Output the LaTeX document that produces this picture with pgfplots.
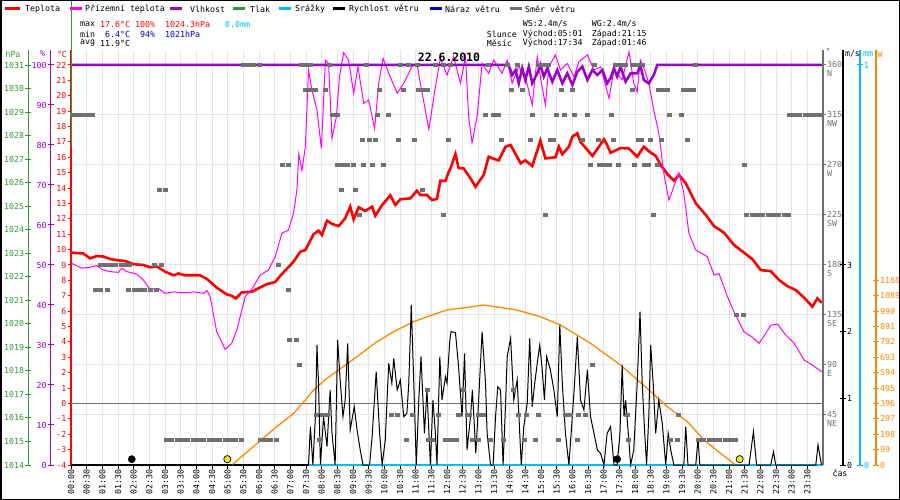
\documentclass[border=0pt]{standalone}
\usepackage{pgfplots}
\pgfplotsset{compat=1.18}
\usepackage{fontspec}
\setmainfont{DejaVu Sans Mono}
\newfontfamily\mono{DejaVu Sans Mono}
\newcommand\tfnt{\mono\fontsize{8.3}{9.5}\selectfont}
\definecolor{cT}{RGB}{255,0,0}
\definecolor{cG}{RGB}{255,0,255}
\definecolor{cH}{RGB}{153,0,204}
\definecolor{cP}{RGB}{51,153,51}
\definecolor{cR}{RGB}{0,187,255}
\definecolor{cN}{RGB}{0,0,204}
\definecolor{cD}{RGB}{112,112,112}
\definecolor{cS}{RGB}{255,136,0}
\definecolor{cGrid}{RGB}{228,228,228}
\definecolor{cMin}{RGB}{0,0,204}
\definecolor{cSun}{RGB}{255,240,0}
\pgfplotsset{
  geom/.style={at={(71bp,35bp)}, anchor=south west, scale only axis,
     width=752bp, height=415.4bp, xmin=0, xmax=24, clip=false},
  side/.style={at={(#1,35bp)}, anchor=south west, scale only axis,
     width=1bp, height=415.4bp, xmin=0, xmax=1, hide x axis, clip=false,
     axis line style={-}, tick label style={font=\tfnt, inner sep=1bp},
     tick align=center, major tick length=6bp},
}
\begin{document}
\begin{tikzpicture}
\useasboundingbox (0,0) rectangle (900bp,500bp);
% ---------- grid (wind-direction scale) ----------
\begin{axis}[geom, ymin=0, ymax=373.86,
  xtick={0,0.5,...,24}, ytick={45,90,135,180,225,270,315,360},
  xmajorgrids, ymajorgrids, grid style={cGrid, line width=1bp},
  major tick length=0pt, xticklabels={}, yticklabels={},
  axis line style={draw=none}]
\addplot[draw=none] coordinates {(0,0)};
\end{axis}
% ---------- main temperature axis ----------
\begin{axis}[geom, ymin=-4, ymax=23,
  axis x line*=bottom, axis y line*=left, axis line style={-},
  x axis line style={black, line width=2.5bp},
  y axis line style={cT, line width=1.2bp},
  ytick={-4,-3,-2,-1,0,1,2,3,4,5,6,7,8,9,10,11,12,13,14,15,16,17,18,19,20,21,22},
  yticklabels={-4,-3,-2,-1,0,1,2,3,4,5,6,7,8,9,10,11,12,13,14,15,16,17,18,19,20,21,22},
  ytick style={cT, line width=1bp},
  yticklabel style={text=cT, font=\tfnt, inner sep=1bp},
  xtick={0,0.5,...,23.5},
  xticklabels={00:00,00:30,01:00,01:30,02:00,02:30,03:00,03:30,04:00,04:30,05:00,05:30,06:00,06:30,07:00,07:30,08:00,08:30,09:00,09:30,10:00,10:30,11:00,11:30,12:00,12:30,13:00,13:30,14:00,14:30,15:00,15:30,16:00,16:30,17:00,17:30,18:00,18:30,19:00,19:30,20:00,20:30,21:00,21:30,22:00,22:30,23:00,23:30},
  xticklabel style={rotate=90, anchor=east, font=\tfnt, inner sep=1bp},
  xtick style={black, line width=0.8bp},
  tick align=outside, major tick length=3.5bp]
\addplot[cD, line width=1bp] coordinates {(0,0) (24,0)};
\end{axis}
% ---------- precipitation (mm) ----------
\begin{axis}[geom, hide axis, ymin=0, ymax=1.0385]
\addplot[cR, line width=2.2bp] coordinates {(7.55,0) (24,0)};
\end{axis}
% ---------- solar radiation (W) ----------
\begin{axis}[geom, hide axis, ymin=0, ymax=2673.1]
\addplot[cS, line width=1.3bp] coordinates {
(5.13,0)(6.04,156)(6.57,247)(7.10,332)(7.48,418)(7.74,483)(8.17,558)(8.91,665)(9.77,794)(10.30,858)(10.94,923)(11.79,984)(12.05,1000)(12.43,1008)(13.17,1030)(14.24,997)(14.98,954)(15.62,901)(16.58,783)(17.54,643)(18.39,493)(19.03,375)(19.67,279)(20.20,161)(20.73,75)(21.21,0)};
\end{axis}
% ---------- temperatures ----------
\begin{axis}[geom, hide axis, ymin=-4, ymax=23]
\addplot[cT, line width=2.6bp] coordinates {
(0.02,9.80)(0.39,9.75)(0.61,9.43)(0.82,9.58)(1.03,9.55)(1.25,9.39)(1.51,9.30)(1.73,9.26)(1.99,9.05)(2.31,9.00)(2.52,8.85)(2.74,8.90)(3.00,8.57)(3.27,8.33)(3.43,8.45)(3.64,8.33)(4.12,8.33)(4.34,8.09)(4.65,7.53)(4.97,7.09)(5.13,7.00)(5.26,6.83)(5.45,7.22)(5.77,7.26)(6.04,7.55)(6.25,7.75)(6.52,7.90)(6.68,8.30)(7.10,9.21)(7.32,9.87)(7.48,9.97)(7.74,11.00)(7.90,11.23)(8.01,10.95)(8.17,11.88)(8.33,11.67)(8.54,11.53)(8.75,12.03)(8.91,12.79)(9.02,11.97)(9.18,12.75)(9.39,12.51)(9.61,12.79)(9.71,12.20)(9.93,12.90)(10.19,13.53)(10.35,12.90)(10.51,13.27)(10.83,13.33)(11.04,13.83)(11.15,13.55)(11.36,13.55)(11.52,13.22)(11.68,13.30)(11.79,14.48)(11.95,14.46)(12.05,15.02)(12.11,15.28)(12.27,16.21)(12.37,15.30)(12.53,15.28)(12.75,14.63)(12.91,14.09)(13.17,14.85)(13.33,16.04)(13.49,15.90)(13.65,15.80)(13.87,16.69)(14.03,16.80)(14.19,16.20)(14.35,15.61)(14.50,15.80)(14.72,15.43)(14.98,17.08)(15.14,15.93)(15.46,16.00)(15.57,16.69)(15.68,16.20)(15.89,16.69)(16.00,17.34)(16.16,17.56)(16.26,17.00)(16.48,16.48)(16.64,16.09)(16.85,16.69)(17.01,17.17)(17.11,16.80)(17.22,16.30)(17.54,16.60)(17.80,16.58)(18.07,16.04)(18.28,16.69)(18.44,16.40)(18.66,16.09)(18.82,15.50)(19.03,14.91)(19.24,14.48)(19.40,14.85)(19.62,14.31)(19.94,13.01)(20.26,12.25)(20.52,11.53)(20.84,11.10)(21.16,10.30)(21.48,9.80)(21.75,9.37)(22.01,8.67)(22.33,8.60)(22.60,8.02)(22.86,7.63)(23.13,7.37)(23.40,6.87)(23.66,6.29)(23.82,6.83)(23.96,6.55)};
\addplot[cG, line width=1bp] coordinates {
(0.02,9.11)(0.34,8.79)(0.61,8.85)(0.82,8.96)(1.03,8.67)(1.25,8.57)(1.51,8.52)(1.62,8.79)(1.78,8.57)(2.10,8.41)(2.31,8.02)(2.52,7.42)(2.79,7.48)(3.00,7.16)(3.27,7.25)(3.59,7.20)(3.91,7.25)(4.23,7.16)(4.34,7.33)(4.44,6.94)(4.65,4.66)(4.92,3.52)(5.13,3.91)(5.29,4.77)(5.56,6.94)(5.77,7.42)(6.04,8.35)(6.30,8.67)(6.52,9.54)(6.73,11.06)(6.94,11.27)(7.10,12.36)(7.21,13.87)(7.27,16.21)(7.37,15.13)(7.48,16.69)(7.58,21.67)(7.69,20.37)(7.85,19.07)(7.99,16.58)(8.12,22.32)(8.22,22.10)(8.33,17.24)(8.47,18.64)(8.57,21.24)(8.70,22.80)(8.86,22.32)(9.02,20.16)(9.16,21.89)(9.34,19.51)(9.50,19.72)(9.69,17.88)(9.82,20.81)(9.96,22.43)(10.14,21.46)(10.41,20.16)(10.62,20.81)(10.88,21.89)(11.04,22.10)(11.15,20.81)(11.42,17.82)(11.63,20.59)(11.79,22.43)(12.00,21.35)(12.21,22.54)(12.43,20.81)(12.59,22.54)(12.69,18.64)(12.80,16.95)(12.96,18.64)(13.12,22.10)(13.33,21.46)(13.49,22.32)(13.76,21.46)(13.92,22.32)(14.08,20.81)(14.29,21.89)(14.50,21.24)(14.72,19.40)(14.88,22.54)(14.98,21.24)(15.14,19.40)(15.25,21.89)(15.46,22.65)(15.62,21.67)(15.84,22.10)(16.05,21.24)(16.21,22.21)(16.48,22.65)(16.69,21.67)(16.90,21.89)(17.17,19.84)(17.33,21.67)(17.59,21.03)(17.81,22.86)(17.96,20.80)(18.07,20.26)(18.17,22.32)(18.31,21.67)(18.44,20.81)(18.60,19.07)(18.76,17.56)(18.92,14.96)(19.08,13.22)(19.24,14.09)(19.40,15.00)(19.56,13.66)(19.72,11.06)(19.94,9.97)(20.31,9.54)(20.52,8.35)(20.68,8.45)(20.95,6.94)(21.16,5.96)(21.48,4.66)(21.75,4.30)(21.96,3.91)(22.12,4.40)(22.33,5.08)(22.55,5.16)(22.81,4.45)(23.08,3.91)(23.40,2.82)(23.66,2.50)(23.96,2.06)};
\end{axis}
% ---------- humidity ----------
\begin{axis}[geom, hide axis, ymin=0, ymax=103.85]
\addplot[cH, line width=2.5bp] coordinates {
(0,100)(13.97,100)(14.08,97.5)(14.19,98.75)(14.29,95.4)(14.40,99.2)(14.50,96.25)(14.61,99.6)(14.72,95.4)(14.88,97.9)(14.98,100)(15.09,97.1)(15.20,99.2)(15.36,95.8)(15.52,98.75)(15.68,95.4)(15.84,97.9)(16.00,95.0)(16.16,98.3)(16.32,99.6)(16.48,96.25)(16.64,98.75)(16.80,97.5)(16.96,98.75)(17.11,95.4)(17.22,96.7)(17.33,99.2)(17.43,97.1)(17.54,99.6)(17.70,95.8)(17.86,97.9)(18.07,97.9)(18.17,100)(18.28,96.25)(18.44,95.4)(18.60,97.5)(18.71,100)(24,100)};
\end{axis}
% ---------- wind speed ----------
\begin{axis}[geom, hide axis, ymin=0, ymax=6.231]
\addplot[black, line width=1bp] coordinates {
(0,0)(7.58,0)(7.64,0.575)(7.72,0)(7.80,0.725)(7.85,1.8)(7.90,1.225)(7.96,0)(8.06,0.725)(8.17,0.275)(8.27,1.125)(8.33,0.475)(8.43,0)(8.51,1.875)(8.59,1.275)(8.68,0.725)(8.75,0.975)(8.83,1.825)(8.91,0.525)(9.04,0.875)(9.13,0.525)(9.23,0.225)(9.32,0)(9.53,0)(9.61,0.425)(9.74,1.4)(9.85,0.475)(9.93,0)(10.03,0.375)(10.14,1.525)(10.24,1.225)(10.30,1.6)(10.41,1.125)(10.51,1.275)(10.62,0.725)(10.72,0.775)(10.78,1.225)(10.86,2.4)(10.94,1.225)(11.02,0)(11.10,0.975)(11.17,1.625)(11.28,0.475)(11.36,1.125)(11.47,0)(11.55,0.975)(11.63,0.475)(11.68,0)(11.77,1.625)(11.84,0.975)(11.95,1.325)(12.00,1.225)(12.09,1.875)(12.13,2.0)(12.27,1.985)(12.37,1.475)(12.48,0.725)(12.56,1.675)(12.64,0.225)(12.75,0.725)(12.81,1.125)(12.92,0.175)(13.01,0.975)(13.12,2.0)(13.23,1.225)(13.28,0.475)(13.39,0)(13.47,0)(13.55,0.725)(13.62,1.175)(13.71,1.125)(13.79,0)(13.87,0.925)(13.92,1.625)(14.03,1.9)(14.13,0.975)(14.24,1.275)(14.37,0)(14.45,0.575)(14.56,0.925)(14.64,1.9)(14.72,0.875)(14.80,1.225)(14.88,1.525)(14.96,1.8)(15.04,1.425)(15.11,0.975)(15.18,1.625)(15.30,1.425)(15.41,1.125)(15.52,0.725)(15.60,2.1)(15.68,1.225)(15.78,0.475)(15.89,0)(16.00,0.725)(16.07,1.225)(16.16,1.925)(16.26,0.975)(16.37,0.825)(16.48,1.425)(16.58,0.725)(16.69,0.475)(16.80,0.225)(16.90,0.175)(17.01,0)(17.11,0.475)(17.22,0.575)(17.33,0)(17.43,0)(17.52,0.475)(17.59,1.5)(17.65,0.725)(17.70,0.975)(17.77,0.575)(17.86,0)(17.96,0.225)(18.07,1.225)(18.16,2.3)(18.23,1.225)(18.31,0.475)(18.37,0)(18.44,0.725)(18.50,1.8)(18.58,1.225)(18.66,0.475)(18.76,0.975)(18.87,0.625)(18.98,0)(19.06,0.475)(19.14,0.225)(19.24,0)(19.56,0)(19.62,0.575)(19.69,0)(19.94,0)(20.01,0.4)(20.07,0)(21.64,0)(21.78,0.5)(21.88,0)(22.33,0)(22.42,0.2)(22.49,0)(23.77,0)(23.84,0.3)(23.95,0)};
\end{axis}
% ---------- wind direction ----------
\begin{axis}[geom, hide axis, ymin=0, ymax=373.86]
\addplot[only marks, mark=-, mark size=2.5bp, cD, mark options={line width=4bp, cD}] coordinates {
(5.50,360)(5.67,360)(5.84,360)(6.00,360)(7.35,360)(7.50,360)(7.63,360)(8.25,360)(9.42,360)(10.51,360)(10.77,360)(11.05,360)(11.63,360)(11.88,360)(12.10,360)(13.32,360)(13.93,360)(14.25,360)(14.92,360)(15.08,360)(15.24,360)(16.71,360)(17.38,360)(17.54,360)(17.70,360)(17.92,360)(18.08,360)(18.24,360)(19.94,360)
(7.48,337.5)(7.64,337.5)(7.80,337.5)(8.12,337.5)(9.84,337.5)(10.61,337.5)(11.09,337.5)(11.25,337.5)(11.37,337.5)(14.06,337.5)(14.41,337.5)(15.65,337.5)(16.01,337.5)(17.92,337.5)(18.75,337.5)(18.92,337.5)(19.04,337.5)(19.55,337.5)(19.70,337.5)(19.87,337.5)
(0.05,315)(0.20,315)(0.37,315)(0.54,315)(0.70,315)(8.34,315)(8.50,315)(9.78,315)(10.13,315)(13.23,315)(13.48,315)(13.64,315)(14.73,315)(15.50,315)(15.75,315)(16.07,315)(16.49,315)(17.25,315)(19.10,315)(19.49,315)(22.92,315)(23.09,315)(23.26,315)(23.43,315)(23.60,315)(23.77,315)(23.93,315)
(9.30,292.5)(9.52,292.5)(9.71,292.5)(10.45,292.5)(10.96,292.5)(12.04,292.5)(13.74,292.5)(14.66,292.5)(15.30,292.5)(15.40,292.5)(16.33,292.5)(16.84,292.5)(17.32,292.5)(18.11,292.5)(18.21,292.5)(18.50,292.5)(18.85,292.5)(19.68,292.5)
(6.74,270)(6.93,270)(8.50,270)(8.66,270)(8.83,270)(9.00,270)(9.33,270)(9.62,270)(9.97,270)(16.58,270)(16.87,270)(17.03,270)(17.19,270)(17.48,270)(17.99,270)(18.31,270)(18.43,270)(18.72,270)(21.50,270)
(2.84,247.5)(3.00,247.5)(8.63,247.5)(9.07,247.5)(11.21,247.5)
(9.20,225)(11.88,225)(15.14,225)(18.59,225)(21.57,225)(21.74,225)(21.91,225)(22.08,225)(22.25,225)(22.42,225)(22.59,225)(22.76,225)(22.90,225)
(0.93,180)(1.09,180)(1.26,180)(1.43,180)(1.60,180)(1.76,180)(1.88,180)(2.68,180)(2.90,180)(6.61,180)
(0.77,157.5)(0.93,157.5)(1.15,157.5)(1.85,157.5)(2.02,157.5)(2.19,157.5)(2.36,157.5)(2.53,157.5)(2.72,157.5)(6.93,157.5)
(21.25,135)(21.47,135)
(6.97,112.5)(7.20,112.5)
(7.28,90)(16.65,90)
(11.37,67.5)(12.52,67.5)(14.12,67.5)
(7.83,45)(8.02,45)(8.18,45)(10.22,45)(10.42,45)(10.89,45)(11.72,45)(12.36,45)(12.65,45)(12.72,45)(13.00,45)(13.16,45)(14.28,45)(14.54,45)(14.92,45)(15.78,45)(15.94,45)(16.20,45)(16.42,45)(17.76,45)(19.39,45)
(3.05,22.5)(3.22,22.5)(3.39,22.5)(3.56,22.5)(3.73,22.5)(3.90,22.5)(4.07,22.5)(4.24,22.5)(4.41,22.5)(4.58,22.5)(4.75,22.5)(4.92,22.5)(5.09,22.5)(5.26,22.5)(5.43,22.5)(6.04,22.5)(6.20,22.5)(6.36,22.5)(6.55,22.5)(7.92,22.5)(10.70,22.5)(11.40,22.5)(11.55,22.5)(11.95,22.5)(12.02,22.5)(12.15,22.5)(12.30,22.5)(12.81,22.5)(12.99,22.5)(13.39,22.5)(13.80,22.5)(14.47,22.5)(14.82,22.5)(15.56,22.5)(16.17,22.5)(17.80,22.5)(19.14,22.5)(19.37,22.5)(20.03,22.5)(20.20,22.5)(20.37,22.5)(20.54,22.5)(20.71,22.5)(20.88,22.5)(21.05,22.5)(21.20,22.5)};
\end{axis}
% ---------- sun and moon ----------
\begin{axis}[geom, hide axis, ymin=-4, ymax=23]
\addplot[only marks, mark=*, mark size=3.6bp, mark options={fill=black, draw=black}] coordinates {(1.94,-3.62)(17.43,-3.62)};
\addplot[only marks, mark=*, mark size=3.6bp, mark options={fill=cSun, draw=black, line width=0.7bp}] coordinates {(4.99,-3.62)(21.34,-3.62)};
\end{axis}
% ---------- side axes ----------
\begin{axis}[side=28.3bp, ymin=1014, ymax=1031.655, axis y line*=left,
  y axis line style={cP, line width=1.2bp},
  ytick={1014,1015,1016,1017,1018,1019,1020,1021,1022,1023,1024,1025,1026,1027,1028,1029,1030,1031},
  yticklabels={1014,1015,1016,1017,1018,1019,1020,1021,1022,1023,1024,1025,1026,1027,1028,1029,1030,1031},
  ytick style={cP, line width=1bp}, yticklabel style={text=cP}]
\addplot[draw=none] coordinates {(0,1020)};
\end{axis}
\begin{axis}[side=50.7bp, ymin=0, ymax=103.85, axis y line*=left,
  y axis line style={cH, line width=1.2bp},
  ytick={0,10,20,30,40,50,60,70,80,90,100},
  yticklabels={0,10,20,30,40,50,60,70,80,90,100},
  ytick style={cH, line width=1bp}, yticklabel style={text=cH}]
\addplot[draw=none] coordinates {(0,50)};
\end{axis}
\begin{axis}[side=822bp, ymin=0, ymax=373.86, axis y line*=right,
  y axis line style={cD, line width=1.3bp},
  ytick={45,90,135,180,225,270,315,360},
  yticklabels={{45\\NE},{90\\E},{135\\SE},{180\\S},{225\\SW},{270\\W},{315\\NW},{360\\N}},
  tick align=outside, major tick length=3bp,
  ytick style={cD, line width=1bp},
  yticklabel style={text=cD, align=left, anchor=north west, yshift=5bp}]
\addplot[draw=none] coordinates {(0,50)};
\end{axis}
\begin{axis}[side=842bp, ymin=0, ymax=6.231, axis y line*=right,
  y axis line style={black, line width=1.2bp},
  ytick={0,1,2,3}, yticklabels={0,1,2,3},
  ytick style={black, line width=1bp}, yticklabel style={text=black}]
\addplot[draw=none] coordinates {(0,1)};
\end{axis}
\begin{axis}[side=859bp, ymin=0, ymax=1.0385, axis y line*=right,
  y axis line style={cR, line width=1.2bp},
  ytick={0,1}, yticklabels={0,1},
  ytick style={cR, line width=1bp}, yticklabel style={text=cR}]
\addplot[draw=none] coordinates {(0,0.5)};
\end{axis}
\begin{axis}[side=875bp, ymin=0, ymax=2673.1, axis y line*=right,
  y axis line style={cS, line width=1.2bp},
  ytick={0,99,198,297,396,495,594,693,792,891,990,1089,1188},
  yticklabels={0,99,198,297,396,495,594,693,792,891,990,1089,1188},
  ytick style={cS, line width=1bp}, yticklabel style={text=cS}]
\addplot[draw=none] coordinates {(0,100)};
\end{axis}
% ---------- texts and frame ----------
\draw[cP, line width=1bp] (71.5bp,500bp) -- (71.5bp,353bp);
\begin{scope}[every node/.style={font=\tfnt, inner sep=0pt, anchor=west}]
\draw[cT, line width=3bp] (5bp,491bp) -- (20bp,491bp); \node at (25bp,491bp) {Teplota};
\draw[cG, line width=3bp] (70bp,491bp) -- (82bp,491bp); \node at (85bp,491bp) {Přízemní teplota};
\draw[cH, line width=3bp] (170bp,491bp) -- (182bp,491bp); \node at (190bp,491bp) {Vlhkost};
\draw[cP, line width=3bp] (233bp,491bp) -- (245bp,491bp); \node at (250bp,491bp) {Tlak};
\draw[cR, line width=3bp] (279bp,491bp) -- (291bp,491bp); \node at (295bp,491bp) {Srážky};
\draw[black, line width=3bp] (333bp,491bp) -- (345bp,491bp); \node at (349bp,491bp) {Rychlost větru};
\draw[cN, line width=3bp] (430bp,491bp) -- (442bp,491bp); \node at (445bp,491bp) {Náraz větru};
\draw[cD, line width=3bp] (510bp,491bp) -- (522bp,491bp); \node at (525bp,491bp) {Směr větru};
\node at (80bp,476bp) {max};
\node[text=cT] at (100bp,476bp) {17.6°C};
\node[text=cT] at (135bp,476bp) {100\%};
\node[text=cT] at (165bp,476bp) {1024.3hPa};
\node[text=cR] at (225bp,476bp) {0.0mm};
\node at (80bp,466bp) {min};
\node[text=cMin] at (105bp,466bp) {6.4°C};
\node[text=cMin] at (140bp,466bp) {94\%};
\node[text=cMin] at (165bp,466bp) {1021hPa};
\node at (80bp,457bp) {avg};
\node at (100bp,457bp) {11.9°C};
\node at (522.7bp,476bp) {WS:2.4m/s};
\node at (591.7bp,476bp) {WG:2.4m/s};
\node at (486.7bp,466bp) {Slunce};
\node at (522.7bp,466bp) {Východ:05:01};
\node at (591.7bp,466bp) {Západ:21:15};
\node at (486.7bp,457bp) {Měsíc};
\node at (522.7bp,457bp) {Východ:17:34};
\node at (591.7bp,457bp) {Západ:01:46};
\end{scope}
\begin{scope}[every node/.style={font=\tfnt, inner sep=0pt, anchor=center}]
\node[text=cP] at (13bp,446bp) {hPa};
\node[text=cH] at (42.5bp,446bp) {\%};
\node[text=cT] at (62bp,446bp) {°C};
\node[text=cD] at (828bp,449bp) {°};
\node at (852.5bp,446bp) {m/s};
\node[text=cR] at (868bp,446bp) {mm};
\node[text=cS] at (880bp,446bp) {W};
\node at (840bp,26.5bp) {čas};
\end{scope}
\node[font=\mono\bfseries\fontsize{11.5}{12}\selectfont, inner sep=0pt] at (449bp,443bp) {22.6.2010};
\draw[black, line width=1.5bp] (0.75bp,0.75bp) rectangle (899.25bp,499.25bp);
\end{tikzpicture}
\end{document}
